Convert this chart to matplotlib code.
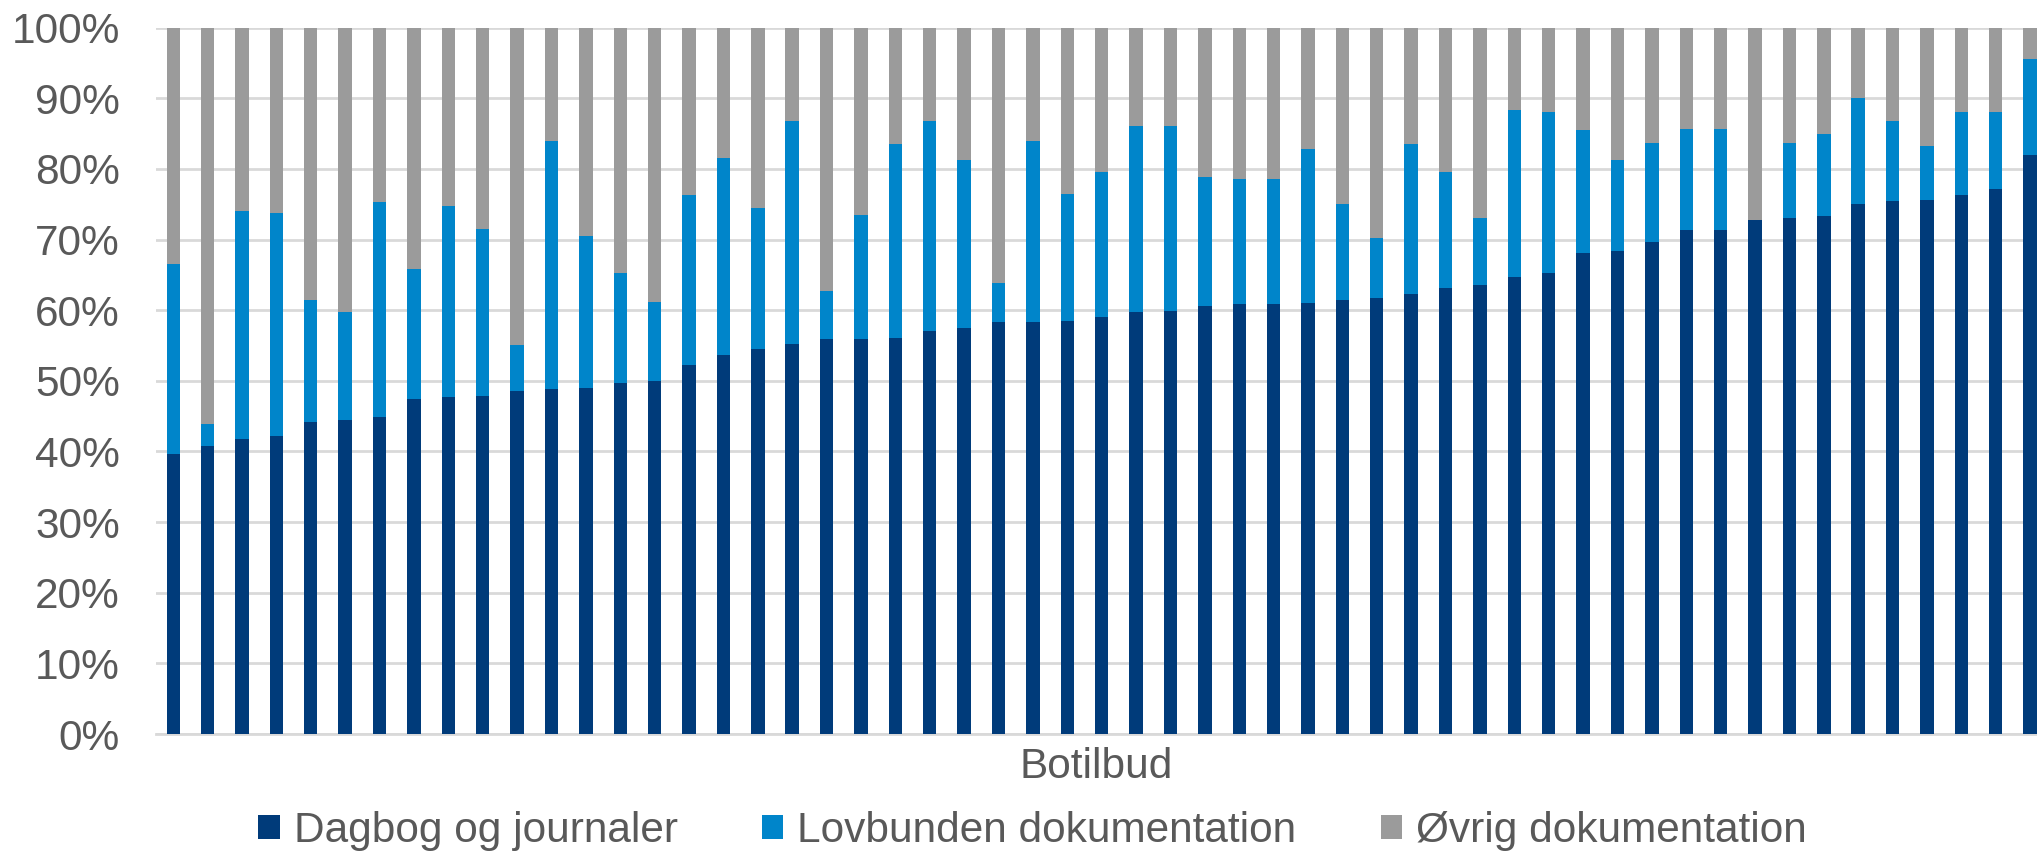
import numpy as np
import matplotlib.pyplot as plt
from matplotlib.ticker import PercentFormatter

plt.rcParams['font.family'] = ['Liberation Sans', 'DejaVu Sans']

# andele pr. botilbud (i procent)
dagbog = [39.6, 40.7, 41.8, 42.2, 44.2, 44.4, 44.9, 47.4, 47.7, 47.9,
          48.6, 48.9, 49.0, 49.7, 49.9, 52.3, 53.6, 54.5, 55.2, 55.9,
          55.9, 56.0, 57.1, 57.5, 58.3, 58.3, 58.4, 59.0, 59.7, 59.9,
          60.6, 60.8, 60.8, 61.0, 61.4, 61.7, 62.3, 63.2, 63.5, 64.7,
          65.2, 68.1, 68.4, 69.6, 71.4, 71.4, 72.7, 73.1, 73.3, 75.0,
          75.4, 75.6, 76.3, 77.2, 82.0]
# toppen af lovbunden dokumentation (kumuleret)
lovbunden_top = [66.5, 43.9, 74.1, 73.8, 61.5, 59.8, 75.3, 65.8, 74.7, 71.5,
                 55.1, 83.9, 70.5, 65.3, 61.2, 76.3, 81.6, 74.4, 86.8, 62.7,
                 73.5, 83.5, 86.8, 81.2, 63.9, 84.0, 76.4, 79.6, 86.1, 86.0,
                 78.8, 78.5, 78.5, 82.8, 75.0, 70.2, 83.5, 79.6, 73.0, 88.3,
                 88.0, 85.5, 81.3, 83.6, 85.7, 85.7, 72.7, 83.6, 85.0, 90.0,
                 86.8, 83.3, 88.1, 88.1, 95.5]

serier = ['Dagbog og journaler', 'Lovbunden dokumentation', 'Øvrig dokumentation']
farver = ['#003B7A', '#0085CA', '#9B9B9B']

d = np.array(dagbog) / 100
lov = np.array(lovbunden_top) / 100 - d
ovrig = 1 - d - lov
x = np.arange(len(d))

fig = plt.figure(figsize=(20.37, 8.56), dpi=100)
ax = fig.add_axes([0.0766, 0.1425, 0.9234, 0.8253])

w = 0.39
ax.bar(x, d, w, color=farver[0], label=serier[0], zorder=3)
ax.bar(x, lov, w, bottom=d, color=farver[1], label=serier[1], zorder=3)
ax.bar(x, ovrig, w, bottom=d + lov, color=farver[2], label=serier[2], zorder=3)

ax.set_xlim(-0.5, 54.2)
ax.set_ylim(0, 1)
ax.set_yticks(np.arange(0, 1.01, 0.1))
ax.yaxis.set_major_formatter(PercentFormatter(1.0, decimals=0))
ax.set_xticks([])
ax.tick_params(axis='y', length=0, pad=26, labelsize=30.5, labelcolor='#595959')
ax.grid(axis='y', color='#D9D9D9', linewidth=2, zorder=0)
for s in ['top', 'right', 'left']:
    ax.spines[s].set_visible(False)
ax.spines['bottom'].set_color('#D9D9D9')
ax.spines['bottom'].set_linewidth(2)

ax.set_xlabel('Botilbud', fontsize=30.5, color='#595959', va='center')
ax.xaxis.set_label_coords(0.5, -0.046)

fig.legend(loc='center', bbox_to_anchor=(0.507, 0.029), ncol=3, frameon=False,
           fontsize=30.5, labelcolor='#595959', handlelength=0.5, handleheight=0.5,
           handletextpad=0.33, columnspacing=2.0, borderpad=0)

fig.savefig('out.png', dpi=100)
